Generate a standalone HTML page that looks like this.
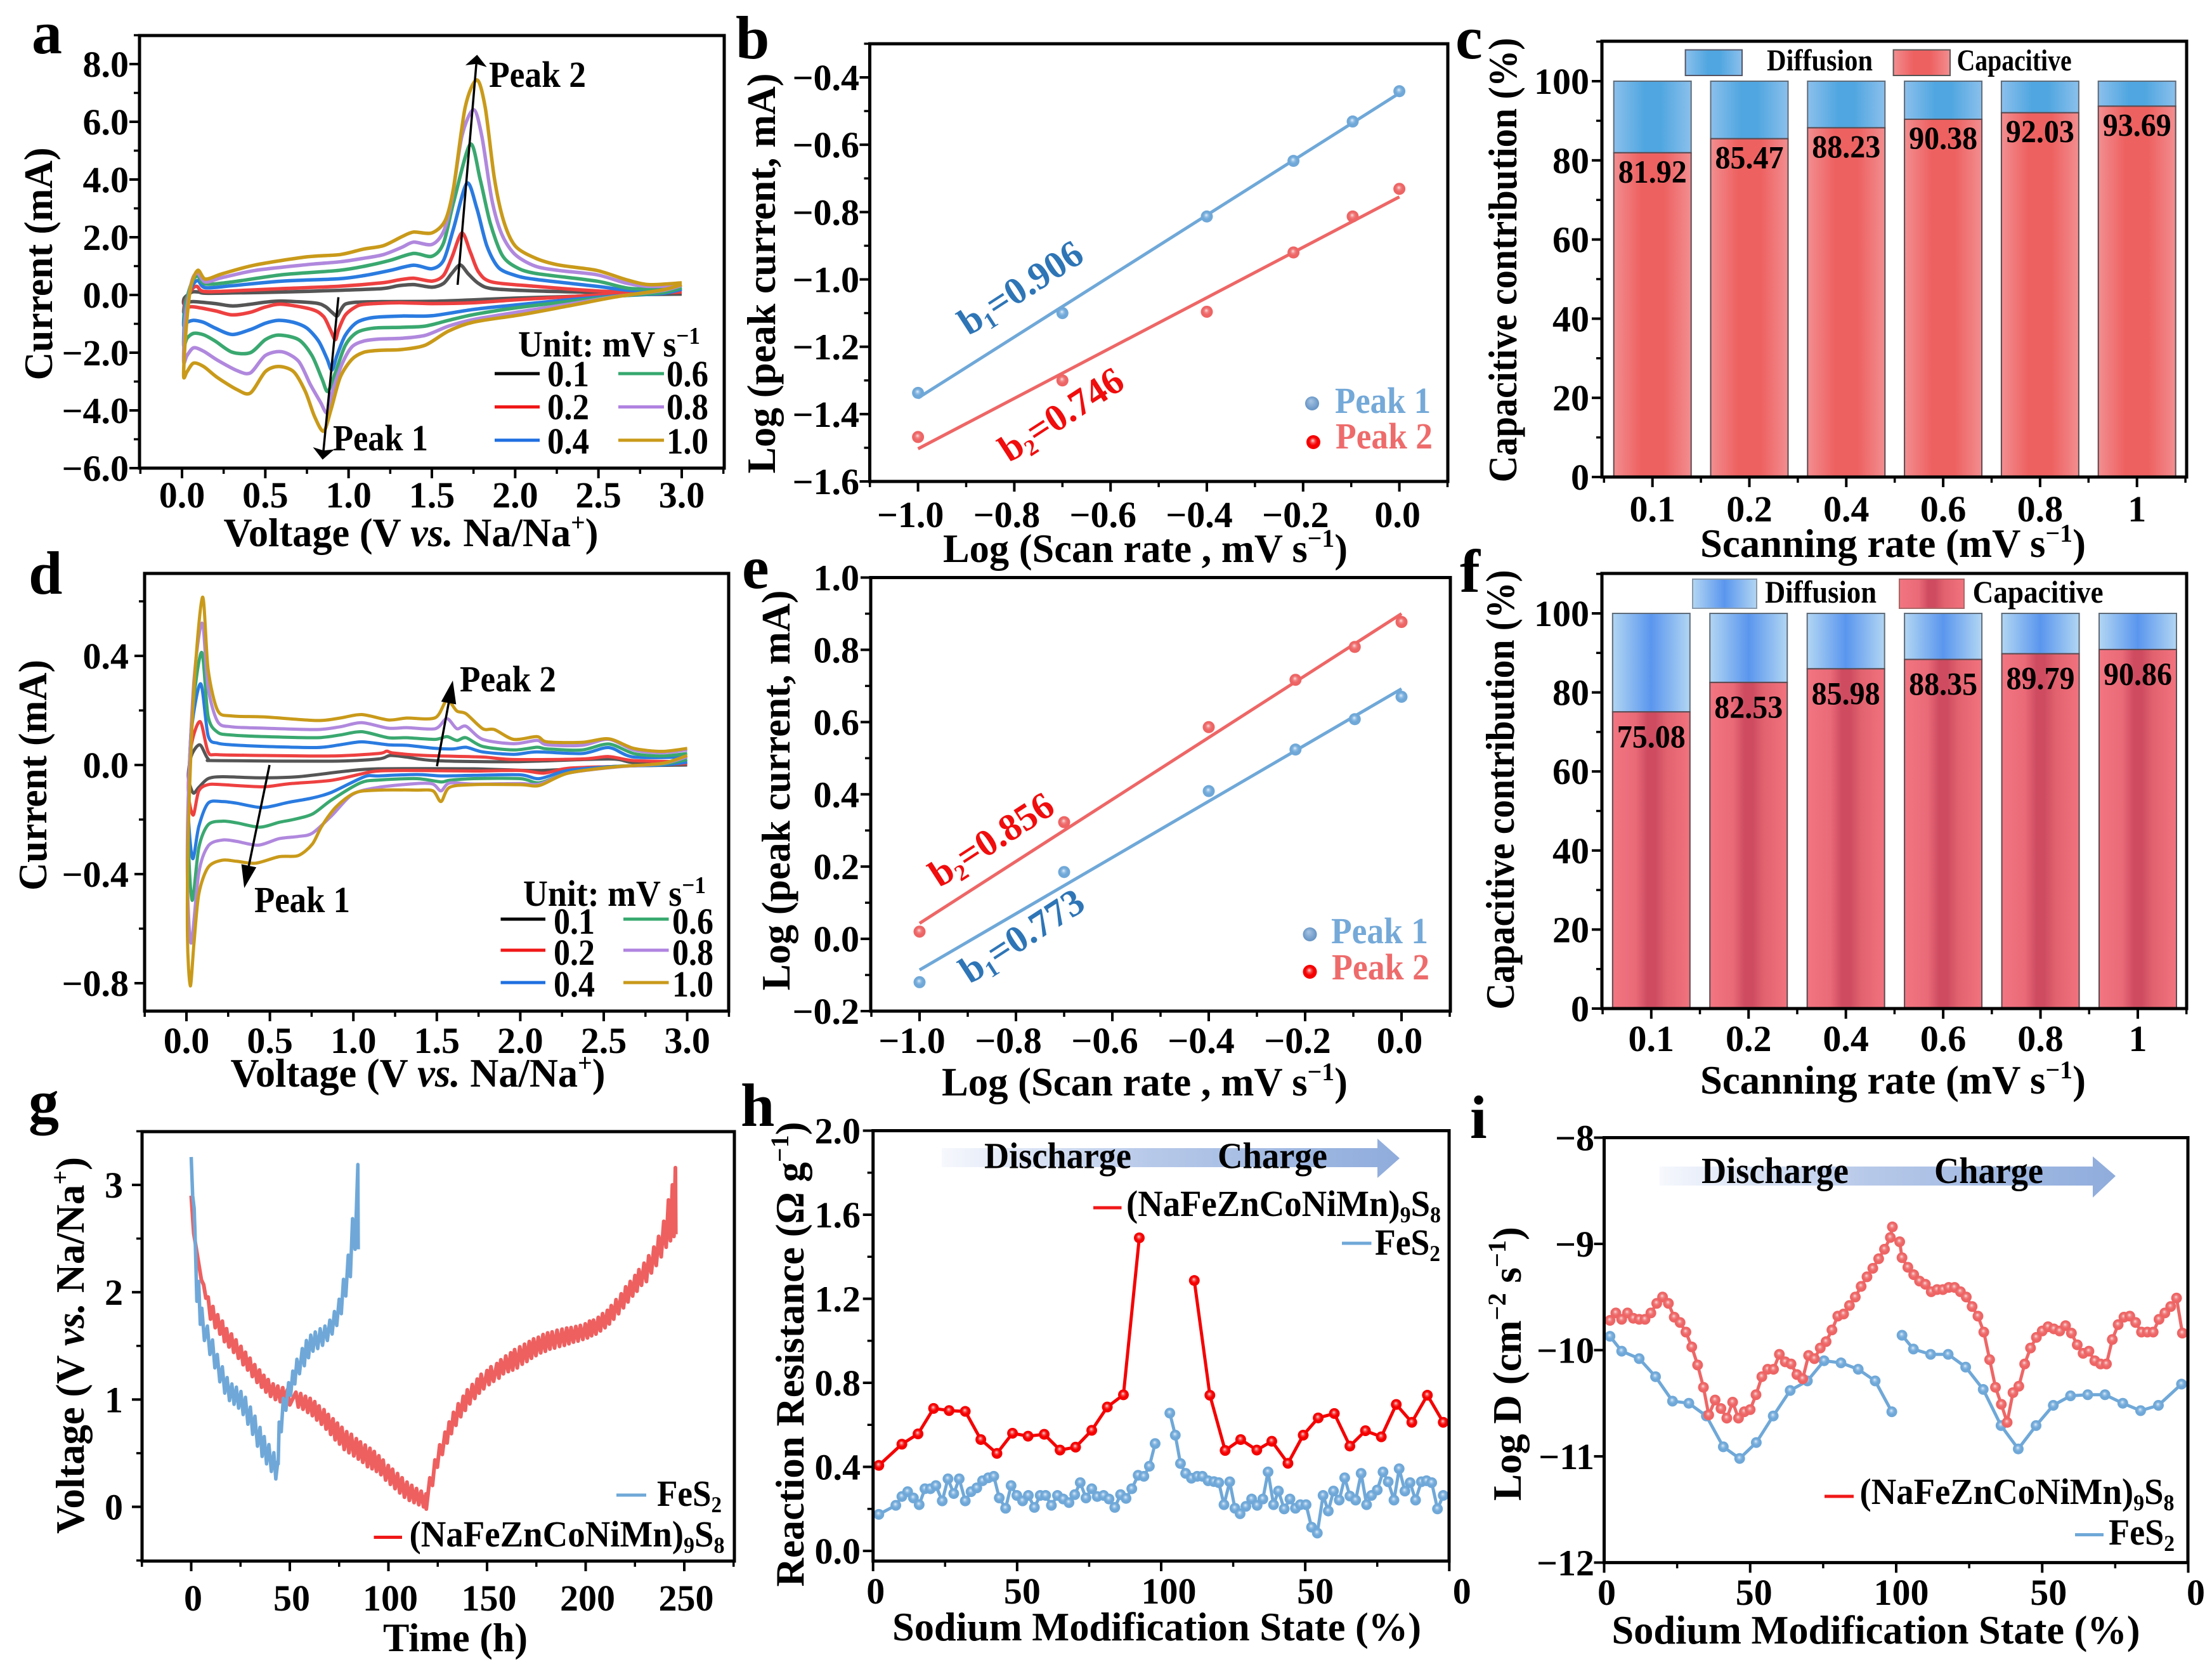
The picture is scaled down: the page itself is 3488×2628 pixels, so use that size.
<!DOCTYPE html>
<html lang="en">
<head>
<meta charset="utf-8">
<title>Electrochemical characterisation figure</title>
<style>
html,body{margin:0;padding:0;background:#fff;}
svg{display:block;}
text{font-family:"Liberation Serif",serif;font-weight:bold;fill:#000;}
</style>
</head>
<body>
<svg id="figure" xmlns="http://www.w3.org/2000/svg" width="3488" height="2628" viewBox="0 0 3488 2628">
<defs>
<linearGradient id="cCap" x1="0" x2="1" y1="0" y2="0"><stop offset="0" stop-color="#f28e90"/><stop offset=".35" stop-color="#ee6161"/><stop offset=".65" stop-color="#ee6161"/><stop offset="1" stop-color="#f28e90"/></linearGradient>
<linearGradient id="cDif" x1="0" x2="1" y1="0" y2="0"><stop offset="0" stop-color="#8bc0ec"/><stop offset=".4" stop-color="#4fa6e0"/><stop offset=".6" stop-color="#4fa6e0"/><stop offset="1" stop-color="#8bc0ec"/></linearGradient>
<linearGradient id="fCap" x1="0" x2="1" y1="0" y2="0"><stop offset="0" stop-color="#f27581"/><stop offset=".3" stop-color="#ea6a78"/><stop offset=".45" stop-color="#ce4b60"/><stop offset=".55" stop-color="#ce4b60"/><stop offset=".7" stop-color="#e2636f"/><stop offset="1" stop-color="#f2737e"/></linearGradient>
<linearGradient id="fDif" x1="0" x2="1" y1="0" y2="0"><stop offset="0" stop-color="#b2d6f3"/><stop offset=".5" stop-color="#5a96ee"/><stop offset="1" stop-color="#b2d6f3"/></linearGradient>
<linearGradient id="flowArrow" x1="0" x2="1" y1="0" y2="0"><stop offset="0" stop-color="#f6f8fd"/><stop offset=".45" stop-color="#b7c9e9"/><stop offset="1" stop-color="#8facdc"/></linearGradient>
<radialGradient id="dotBlue" cx=".5" cy=".5" r=".55" fx=".45" fy=".38"><stop offset="0" stop-color="#e4eff9"/><stop offset=".3" stop-color="#8dbbe3"/><stop offset=".55" stop-color="#6fa8d8"/><stop offset="1" stop-color="#6fa8d8"/></radialGradient>
<radialGradient id="dotRed" cx=".5" cy=".5" r=".55" fx=".45" fy=".38"><stop offset="0" stop-color="#fde0e0"/><stop offset=".3" stop-color="#f08484"/><stop offset=".55" stop-color="#ee6666"/><stop offset="1" stop-color="#ee6262"/></radialGradient>
<radialGradient id="dotVivid" cx=".5" cy=".5" r=".55" fx=".45" fy=".38"><stop offset="0" stop-color="#fdd"/><stop offset=".3" stop-color="#f84040"/><stop offset=".55" stop-color="#f50000"/><stop offset="1" stop-color="#f50000"/></radialGradient>
<radialGradient id="dotSteel" cx=".5" cy=".5" r=".55" fx=".4" fy=".3"><stop offset="0" stop-color="#a9c6e4"/><stop offset="1" stop-color="#5f8fc2"/></radialGradient>
<marker id="headS" viewBox="0 0 10 10" refX="8" refY="5" markerUnits="userSpaceOnUse" markerWidth="18" markerHeight="34" orient="auto" preserveAspectRatio="none"><path d="M0 0L10 5L0 10L2 5Z" fill="#000"/></marker>
<marker id="headL" viewBox="0 0 10 10" refX="8" refY="5" markerUnits="userSpaceOnUse" markerWidth="36" markerHeight="24" orient="auto" preserveAspectRatio="none"><path d="M0 0L10 5L0 10Z" fill="#000"/></marker>
</defs>

<!-- panel letters -->
<g font-size="96">
<text x="50" y="84">a</text>
<text x="1160" y="92">b</text>
<text x="2295" y="92">c</text>
<text x="45" y="936">d</text>
<text x="1170" y="927">e</text>
<text x="2302" y="933">f</text>
<text x="45" y="1769">g</text>
<text x="1168" y="1775">h</text>
<text x="2318" y="1794">i</text>
</g>

<g id="marks"></g>

<!-- axis titles -->
<g font-size="63" text-anchor="middle">
<text x="648" y="861" textLength="591" lengthAdjust="spacingAndGlyphs">Voltage (V <tspan font-style="italic">vs.</tspan> Na/Na<tspan dy="-24" font-size="40">+</tspan><tspan dy="24">)</tspan></text>
<text transform="translate(82,416) rotate(-90)" textLength="367" lengthAdjust="spacingAndGlyphs">Current (mA)</text>
<text x="1806" y="886" textLength="638" lengthAdjust="spacingAndGlyphs">Log (Scan rate , mV s<tspan dy="-24" font-size="40">−1</tspan><tspan dy="24">)</tspan></text>
<text transform="translate(1222,431) rotate(-90)" textLength="631" lengthAdjust="spacingAndGlyphs">Log (peak current, mA)</text>
<text x="2985" y="878" textLength="608" lengthAdjust="spacingAndGlyphs">Scanning rate (mV s<tspan dy="-24" font-size="40">−1</tspan><tspan dy="24">)</tspan></text>
<text transform="translate(2391,410) rotate(-90)" textLength="701" lengthAdjust="spacingAndGlyphs">Capacitive contribution (%)</text>
<text x="659" y="1713" textLength="591" lengthAdjust="spacingAndGlyphs">Voltage (V <tspan font-style="italic">vs.</tspan> Na/Na<tspan dy="-24" font-size="40">+</tspan><tspan dy="24">)</tspan></text>
<text transform="translate(73,1222) rotate(-90)" textLength="364" lengthAdjust="spacingAndGlyphs">Current (mA)</text>
<text x="1805" y="1727" textLength="640" lengthAdjust="spacingAndGlyphs">Log (Scan rate , mV s<tspan dy="-24" font-size="40">−1</tspan><tspan dy="24">)</tspan></text>
<text transform="translate(1245,1246) rotate(-90)" textLength="631" lengthAdjust="spacingAndGlyphs">Log (peak current, mA)</text>
<text x="2985" y="1724" textLength="608" lengthAdjust="spacingAndGlyphs">Scanning rate (mV s<tspan dy="-24" font-size="40">−1</tspan><tspan dy="24">)</tspan></text>
<text transform="translate(2387,1245) rotate(-90)" textLength="693" lengthAdjust="spacingAndGlyphs">Capacitive contribution (%)</text>
<text x="718" y="2603" textLength="228" lengthAdjust="spacingAndGlyphs">Time (h)</text>
<text transform="translate(132,2121) rotate(-90)" textLength="594" lengthAdjust="spacingAndGlyphs">Voltage (V <tspan font-style="italic">vs.</tspan> Na/Na<tspan dy="-24" font-size="40">+</tspan><tspan dy="24">)</tspan></text>
<text x="1824" y="2586" textLength="834" lengthAdjust="spacingAndGlyphs">Sodium Modification State (%)</text>
<text transform="translate(1267,2135) rotate(-90)" textLength="733" lengthAdjust="spacingAndGlyphs">Reaction Resistance (Ω g<tspan dy="-24" font-size="40">−1</tspan><tspan dy="24">)</tspan></text>
<text x="2958" y="2591" textLength="833" lengthAdjust="spacingAndGlyphs">Sodium Modification State (%)</text>
<text transform="translate(2398,2150) rotate(-90)" textLength="432" lengthAdjust="spacingAndGlyphs">Log D (cm<tspan dy="-24" font-size="40">−2</tspan><tspan dy="24"> s</tspan><tspan dy="-24" font-size="40">−1</tspan><tspan dy="24">)</tspan></text>
</g>

<!-- panel a annotations and legend -->
<g>
<line x1="721.6" y1="449" x2="752" y2="90" stroke="#000" stroke-width="3.5" marker-end="url(#headS)"/>
<line x1="533.6" y1="468.6" x2="509" y2="721" stroke="#000" stroke-width="3.5" marker-end="url(#headS)"/>
<text x="771" y="137" font-size="58" textLength="153" lengthAdjust="spacingAndGlyphs">Peak 2</text>
<text x="525" y="710" font-size="58" textLength="150" lengthAdjust="spacingAndGlyphs">Peak 1</text>
<text x="817" y="562" font-size="58" textLength="287" lengthAdjust="spacingAndGlyphs">Unit: mV s<tspan dy="-20" font-size="38">−1</tspan></text>
<g stroke-width="5">
<line x1="780" x2="851" y1="589" y2="589" stroke="#000"/>
<line x1="780" x2="851" y1="641.5" y2="641.5" stroke="#f01818"/>
<line x1="780" x2="851" y1="694" y2="694" stroke="#1f6fe0"/>
<line x1="975" x2="1047" y1="589" y2="589" stroke="#35a86e"/>
<line x1="975" x2="1047" y1="641.5" y2="641.5" stroke="#b083e0"/>
<line x1="975" x2="1047" y1="694" y2="694" stroke="#c99a1a"/>
</g>
<g font-size="58">
<text x="863" y="609" textLength="66" lengthAdjust="spacingAndGlyphs">0.1</text>
<text x="863" y="661" textLength="66" lengthAdjust="spacingAndGlyphs">0.2</text>
<text x="863" y="715" textLength="66" lengthAdjust="spacingAndGlyphs">0.4</text>
<text x="1051" y="609" textLength="66" lengthAdjust="spacingAndGlyphs">0.6</text>
<text x="1051" y="661" textLength="66" lengthAdjust="spacingAndGlyphs">0.8</text>
<text x="1051" y="715" textLength="66" lengthAdjust="spacingAndGlyphs">1.0</text>
</g>
</g>

<!-- panel d annotations and legend -->
<g>
<line x1="689" y1="1208" x2="712.7" y2="1080" stroke="#000" stroke-width="3.5" marker-end="url(#headL)"/>
<line x1="425" y1="1206" x2="386.6" y2="1393" stroke="#000" stroke-width="3.5" marker-end="url(#headL)"/>
<text x="725" y="1090" font-size="58" textLength="152" lengthAdjust="spacingAndGlyphs">Peak 2</text>
<text x="401" y="1438" font-size="58" textLength="151" lengthAdjust="spacingAndGlyphs">Peak 1</text>
<text x="825" y="1428" font-size="58" textLength="288" lengthAdjust="spacingAndGlyphs">Unit: mV s<tspan dy="-20" font-size="38">−1</tspan></text>
<g stroke-width="5">
<line x1="789.5" x2="860" y1="1449" y2="1449" stroke="#000"/>
<line x1="789.5" x2="860" y1="1498" y2="1498" stroke="#f01818"/>
<line x1="789.5" x2="860" y1="1549" y2="1549" stroke="#1f6fe0"/>
<line x1="983" x2="1054.5" y1="1449" y2="1449" stroke="#35a86e"/>
<line x1="983" x2="1054.5" y1="1498" y2="1498" stroke="#b083e0"/>
<line x1="983" x2="1054.5" y1="1549" y2="1549" stroke="#c99a1a"/>
</g>
<g font-size="58">
<text x="873" y="1472" textLength="65" lengthAdjust="spacingAndGlyphs">0.1</text>
<text x="873" y="1521" textLength="65" lengthAdjust="spacingAndGlyphs">0.2</text>
<text x="873" y="1571" textLength="65" lengthAdjust="spacingAndGlyphs">0.4</text>
<text x="1060" y="1472" textLength="65" lengthAdjust="spacingAndGlyphs">0.6</text>
<text x="1060" y="1521" textLength="65" lengthAdjust="spacingAndGlyphs">0.8</text>
<text x="1060" y="1571" textLength="65" lengthAdjust="spacingAndGlyphs">1.0</text>
</g>
</g>

<!-- panels b and e annotations -->
<g font-size="60" text-anchor="middle">
<text transform="translate(1620,470) rotate(-33)" style="fill:#2e75b6">b<tspan dy="10" font-size="36">1</tspan><tspan dy="-10">=0.906</tspan></text>
<text transform="translate(1684,670) rotate(-33)" style="fill:#f00d0d">b<tspan dy="10" font-size="36">2</tspan><tspan dy="-10">=0.746</tspan></text>
<text transform="translate(1574,1340) rotate(-33)" style="fill:#f00d0d">b<tspan dy="10" font-size="36">2</tspan><tspan dy="-10">=0.856</tspan></text>
<text transform="translate(1622,1492) rotate(-33)" style="fill:#2e75b6">b<tspan dy="10" font-size="36">1</tspan><tspan dy="-10">=0.773</tspan></text>
</g>
<g font-size="58">
<circle cx="2069" cy="636" r="11" fill="url(#dotSteel)"/>
<text x="2105" y="651" textLength="151" lengthAdjust="spacingAndGlyphs" style="fill:#74a9d8">Peak 1</text>
<circle cx="2071" cy="697" r="11" fill="url(#dotVivid)"/>
<text x="2106" y="707" textLength="153" lengthAdjust="spacingAndGlyphs" style="fill:#ee6b6b">Peak 2</text>
<circle cx="2065.5" cy="1473" r="11" fill="url(#dotSteel)"/>
<text x="2099" y="1487" textLength="153" lengthAdjust="spacingAndGlyphs" style="fill:#74a9d8">Peak 1</text>
<circle cx="2065.5" cy="1532" r="11" fill="url(#dotVivid)"/>
<text x="2100" y="1544" textLength="154" lengthAdjust="spacingAndGlyphs" style="fill:#ee6b6b">Peak 2</text>
</g>

<!-- panels c and f legends -->
<g font-size="48">
<rect x="2657.6" y="78.6" width="89.4" height="40.4" fill="url(#cDif)" stroke="#556" stroke-width="2"/>
<text x="2786" y="111" textLength="167" lengthAdjust="spacingAndGlyphs">Diffusion</text>
<rect x="2985.6" y="78.6" width="89.4" height="40.4" fill="url(#cCap)" stroke="#555" stroke-width="2"/>
<text x="3085.6" y="111" textLength="181" lengthAdjust="spacingAndGlyphs">Capacitive</text>
<rect x="2669" y="913" width="101" height="46" fill="url(#fDif)" stroke="#89a" stroke-width="2"/>
<text x="2783" y="950" font-size="50" textLength="176" lengthAdjust="spacingAndGlyphs">Diffusion</text>
<rect x="2995" y="913" width="102" height="46" fill="url(#fCap)" stroke="#a66" stroke-width="2"/>
<text x="3110.6" y="950" font-size="50" textLength="206" lengthAdjust="spacingAndGlyphs">Capacitive</text>
</g>

<!-- panel g legend -->
<g font-size="58">
<line x1="972" x2="1019" y1="2357" y2="2357" stroke="#6fa8d8" stroke-width="5"/>
<text x="1036" y="2374" textLength="102" lengthAdjust="spacingAndGlyphs">FeS<tspan dy="10" font-size="36">2</tspan></text>
<line x1="589.5" x2="634" y1="2423.5" y2="2423.5" stroke="#f01818" stroke-width="5"/>
<text x="645.5" y="2438" textLength="497" lengthAdjust="spacingAndGlyphs">(NaFeZnCoNiMn)<tspan dy="10" font-size="36">9</tspan><tspan dy="-10">S</tspan><tspan dy="10" font-size="36">8</tspan></text>
</g>

<!-- panel h annotations -->
<g font-size="58">
<polygon points="1485,1810 2172,1810 2172,1795 2207,1826 2172,1857 2172,1840 1485,1840" fill="url(#flowArrow)"/>
<text x="1552" y="1841.6" textLength="232" lengthAdjust="spacingAndGlyphs">Discharge</text>
<text x="1920" y="1841.6" textLength="173" lengthAdjust="spacingAndGlyphs">Charge</text>
<line x1="1724" x2="1768.5" y1="1904" y2="1904" stroke="#f01818" stroke-width="5"/>
<text x="1776" y="1917" textLength="496" lengthAdjust="spacingAndGlyphs">(NaFeZnCoNiMn)<tspan dy="10" font-size="36">9</tspan><tspan dy="-10">S</tspan><tspan dy="10" font-size="36">8</tspan></text>
<line x1="2116" x2="2162.5" y1="1960" y2="1960" stroke="#6fa8d8" stroke-width="5"/>
<text x="2168" y="1978" textLength="103" lengthAdjust="spacingAndGlyphs">FeS<tspan dy="10" font-size="36">2</tspan></text>
</g>

<!-- panel i annotations -->
<g font-size="58">
<polygon points="2617,1839 3300,1839 3300,1823 3336,1854 3300,1888 3300,1869 2617,1869" fill="url(#flowArrow)"/>
<text x="2683" y="1865" textLength="232" lengthAdjust="spacingAndGlyphs">Discharge</text>
<text x="3050" y="1865" textLength="172" lengthAdjust="spacingAndGlyphs">Charge</text>
<line x1="2877" x2="2923" y1="2359" y2="2359" stroke="#f01818" stroke-width="5"/>
<text x="2932.5" y="2371" textLength="496" lengthAdjust="spacingAndGlyphs">(NaFeZnCoNiMn)<tspan dy="10" font-size="36">9</tspan><tspan dy="-10">S</tspan><tspan dy="10" font-size="36">8</tspan></text>
<line x1="3272" x2="3317" y1="2419.5" y2="2419.5" stroke="#6fa8d8" stroke-width="5"/>
<text x="3325" y="2435" textLength="104" lengthAdjust="spacingAndGlyphs">FeS<tspan dy="10" font-size="36">2</tspan></text>
</g>
</svg>

<script>
/* ---------- Panel a: CV loops, [voltage, current] ---------- */
const cvRates = ['0.1','0.2','0.4','0.6','0.8','1.0'];
const cvColors = ['#555555','#ee4040','#2a7be0','#3aa870','#b088dd','#c99a1a'];
const aCv01 = [[3,.03],[2.6,0],[2.3,-.06],[2,-.11],[1.75,-.17],[1.5,-.22],[1.2,-.23],[1.05,-.25],[.98,-.32],[.95,-.55],[.93,-.73],[.9,-.6],[.86,-.4],[.8,-.28],[.6,-.21],[.5,-.25],[.4,-.33],[.3,-.38],[.2,-.3],[.07,-.23],[.03,-.26],[.01,-.3],[.015,-.1],[.06,.1],[.1,.1],[.14,.06],[.3,.07],[.6,.1],[.94,.16],[1.2,.22],[1.3,.32],[1.39,.36],[1.5,.27],[1.57,.4],[1.62,.75],[1.67,1.04],[1.72,.72],[1.78,.4],[1.86,.22],[2.12,.14],[2.49,.09],[3,.03]];
const aCv02 = [[3,.1],[2.6,.03],[2.3,-.07],[2,-.17],[1.75,-.27],[1.5,-.3],[1.3,-.27],[1.1,-.32],[1.04,-.42],[.98,-.7],[.94,-1.2],[.92,-1.55],[.89,-1.2],[.85,-.75],[.78,-.5],[.6,-.32],[.5,-.42],[.41,-.6],[.3,-.69],[.2,-.55],[.07,-.41],[.03,-.45],[.01,-.6],[.02,-.2],[.06,.2],[.09,.3],[.13,.12],[.3,.14],[.6,.22],[.94,.3],[1.2,.42],[1.3,.52],[1.39,.58],[1.5,.48],[1.57,.68],[1.62,1.3],[1.68,2.15],[1.73,1.5],[1.78,.8],[1.86,.45],[2.12,.3],[2.49,.14],[2.8,.08],[3,.1]];
const aCv04 = [[3,.2],[2.88,.05],[2.6,-.04],[2.3,-.18],[2,-.35],[1.75,-.5],[1.5,-.72],[1.32,-.73],[1.15,-.78],[1.05,-.95],[.98,-1.4],[.93,-2.1],[.9,-2.6],[.87,-2.2],[.82,-1.6],[.75,-1.15],[.67,-.95],[.58,-.88],[.5,-.98],[.41,-1.2],[.3,-1.37],[.2,-1.15],[.13,-.95],[.07,-.88],[.03,-.95],[.01,-1.06],[.02,-.3],[.06,.3],[.095,.5],[.14,.25],[.3,.32],[.6,.48],[.94,.56],[1.1,.68],[1.25,.85],[1.39,1.03],[1.5,.91],[1.57,1.2],[1.63,2.3],[1.71,3.87],[1.77,3],[1.83,1.7],[1.9,.95],[2,.68],[2.12,.54],[2.49,.3],[2.7,.16],[3,.2]];
const aCv06 = [[3,.25],[2.88,.08],[2.6,-.05],[2.3,-.24],[2,-.45],[1.75,-.68],[1.6,-.88],[1.46,-1.08],[1.32,-1.12],[1.15,-1.15],[1.05,-1.3],[.98,-1.75],[.92,-2.7],[.875,-3.34],[.84,-2.9],[.78,-2.1],[.7,-1.55],[.58,-1.39],[.5,-1.55],[.41,-2],[.3,-1.98],[.2,-1.6],[.13,-1.38],[.07,-1.33],[.03,-1.5],[.01,-1.75],[.02,-.4],[.06,.45],[.095,.65],[.14,.38],[.3,.45],[.6,.7],[.94,.85],[1.1,1],[1.25,1.2],[1.39,1.44],[1.5,1.34],[1.57,1.8],[1.63,3.2],[1.73,5.22],[1.79,4],[1.85,2.5],[1.92,1.4],[2,.98],[2.12,.75],[2.49,.48],[2.7,.22],[3,.25]];
const aCv08 = [[3,.33],[2.88,.15],[2.6,-.06],[2.32,-.32],[2.03,-.58],[1.75,-.85],[1.6,-1.08],[1.46,-1.4],[1.32,-1.5],[1.18,-1.53],[1.09,-1.6],[1.02,-1.8],[.96,-2.4],[.9,-3.4],[.87,-4.08],[.83,-3.7],[.77,-3.1],[.7,-2.3],[.6,-1.97],[.5,-2.1],[.41,-2.7],[.33,-2.62],[.21,-2.25],[.13,-1.95],[.07,-1.83],[.03,-2.1],[.01,-2.3],[.02,-.8],[.06,.5],[.094,.75],[.14,.45],[.24,.6],[.44,.85],[.75,1.05],[.95,1.15],[1.09,1.27],[1.21,1.4],[1.32,1.65],[1.39,1.83],[1.5,1.75],[1.57,2.2],[1.62,3.3],[1.68,5.5],[1.75,6.42],[1.8,5.5],[1.86,3.3],[1.92,2.1],[2,1.4],[2.12,1],[2.26,.85],[2.49,.7],[2.66,.42],[2.8,.3],[3,.33]];
const aCv10 = [[3,.36],[2.88,.17],[2.6,-.07],[2.32,-.38],[2.03,-.69],[1.75,-.94],[1.6,-1.25],[1.46,-1.74],[1.32,-1.89],[1.18,-1.92],[1.09,-1.99],[1.02,-2.23],[.95,-2.85],[.895,-3.96],[.85,-4.72],[.795,-4.2],[.74,-3.34],[.67,-2.66],[.58,-2.48],[.5,-2.66],[.41,-3.4],[.33,-3.28],[.21,-2.85],[.13,-2.48],[.07,-2.36],[.03,-2.66],[.01,-2.82],[.02,-1.5],[.05,.2],[.094,.85],[.14,.55],[.24,.73],[.44,1.04],[.75,1.32],[.95,1.4],[1.09,1.59],[1.21,1.71],[1.32,2.02],[1.39,2.18],[1.5,2.15],[1.58,2.58],[1.63,3.7],[1.7,6.5],[1.77,7.45],[1.82,6.5],[1.875,4.05],[1.93,2.58],[2,1.7],[2.12,1.28],[2.26,1.04],[2.49,.85],[2.66,.54],[2.8,.36],[3,.42]];
const aXTickLabels = ['0.0','0.5','1.0','1.5','2.0','2.5','3.0'];
const aYTickLabels = ['8.0','6.0','4.0','2.0','0.0','−2.0','−4.0','−6.0'];

/* ---------- Panel b: log-log fits ---------- */
const logScanRate = [-1,-0.7,-0.4,-0.22,-0.097,0];
const bPeak1 = [-1.337,-1.10,-0.813,-0.648,-0.531,-0.441];
const bPeak2 = [-1.468,-1.30,-1.096,-0.92,-0.813,-0.731];
const bFitX = [-1,0];
const bFit1 = [-1.352,-0.447];
const bFit2 = [-1.503,-0.755];
const logXTickLabels = ['−1.0','−0.8','−0.6','−0.4','−0.2','0.0'];
const bYTickLabels = ['−0.4','−0.6','−0.8','−1.0','−1.2','−1.4','−1.6'];

/* ---------- Panel c: capacitive share ---------- */
const scanRates = ['0.1','0.2','0.4','0.6','0.8','1'];
const cCapacitive = [81.92,85.47,88.23,90.38,92.03,93.69];
const barYTickLabels = ['0','20','40','60','80','100'];

/* ---------- Panel d: CV loops, [voltage, current] ---------- */
const dCv01 = [[3,0],[2.57,-.005],[2.115,-.02],[1.72,-.014],[1.15,-.014],[.95,-.023],[.67,-.043],[.44,-.047],[.215,-.043],[.13,-.05],[.074,-.082],[.04,-.102],[.011,-.043],[.03,.035],[.08,.074],[.13,.022],[.187,.016],[.87,.014],[1.15,.022],[1.22,.035],[1.32,.029],[1.49,.016],[1.96,.012],[2.53,.022],[2.68,.009],[3,.007]];
const dCv02 = [[3,.005],[2.57,-.005],[2.285,-.012],[2.14,-.03],[2,-.02],[1.72,-.022],[1.38,-.02],[1.15,-.022],[1.066,-.03],[.87,-.056],[.61,-.069],[.456,-.08],[.215,-.072],[.13,-.072],[.074,-.095],[.04,-.184],[.011,-.095],[.03,.074],[.082,.159],[.13,.048],[.187,.038],[.47,.035],[.87,.033],[1.15,.042],[1.2,.051],[1.24,.044],[1.43,.035],[1.775,.029],[1.96,.02],[2.37,.022],[2.53,.031],[2.68,.016],[3,.012]];
const dCv04 = [[3,.01],[2.85,0],[2.57,-.005],[2.285,-.02],[2.115,-.05],[2,-.036],[1.72,-.038],[1.525,-.04],[1.38,-.035],[1.15,-.04],[1.066,-.043],[.87,-.1],[.754,-.121],[.61,-.137],[.456,-.156],[.3,-.14],[.215,-.134],[.13,-.14],[.074,-.225],[.037,-.343],[.011,-.16],[.03,.126],[.085,.298],[.13,.107],[.187,.08],[.27,.074],[.47,.068],[.78,.064],[.92,.074],[1.05,.085],[1.21,.074],[1.32,.072],[1.49,.061],[1.6,.059],[1.675,.065],[1.775,.048],[1.96,.039],[2.1,.048],[2.37,.042],[2.53,.064],[2.68,.029],[3,.029]];
const dCv06 = [[3,.02],[2.85,.003],[2.57,-.006],[2.285,-.03],[2.115,-.065],[2,-.05],[1.72,-.05],[1.576,-.056],[1.525,-.062],[1.38,-.05],[1.15,-.055],[1.04,-.066],[.87,-.128],[.754,-.18],[.64,-.2],[.556,-.21],[.44,-.228],[.3,-.212],[.215,-.206],[.13,-.219],[.074,-.303],[.034,-.496],[.011,-.238],[.03,.152],[.09,.413],[.13,.178],[.187,.12],[.27,.11],[.47,.104],[.78,.1],[.92,.11],[1.05,.122],[1.21,.1],[1.32,.1],[1.49,.094],[1.56,.104],[1.62,.09],[1.675,.1],[1.775,.068],[1.96,.055],[2.1,.065],[2.16,.059],[2.37,.055],[2.53,.077],[2.68,.042],[2.85,.033],[3,.042]];
const dCv08 = [[3,.03],[2.85,.005],[2.57,-.008],[2.285,-.03],[2.115,-.07],[2,-.068],[1.72,-.07],[1.576,-.066],[1.525,-.095],[1.477,-.07],[1.38,-.068],[1.15,-.082],[.995,-.108],[.87,-.186],[.754,-.25],[.67,-.262],[.556,-.27],[.43,-.294],[.3,-.28],[.215,-.275],[.13,-.297],[.074,-.395],[.028,-.653],[.006,-.43],[.011,-.108],[.045,.31],[.094,.52],[.13,.283],[.187,.159],[.27,.14],[.47,.135],[.78,.13],[.92,.14],[1.05,.155],[1.21,.135],[1.32,.137],[1.49,.133],[1.56,.17],[1.62,.133],[1.675,.142],[1.775,.094],[1.96,.078],[2.1,.09],[2.16,.074],[2.37,.072],[2.53,.094],[2.68,.055],[2.85,.045],[3,.055]];
const dCv10 = [[3,.035],[2.85,.006],[2.57,-.007],[2.285,-.03],[2.115,-.075],[2,-.072],[1.72,-.072],[1.576,-.082],[1.525,-.134],[1.477,-.095],[1.38,-.092],[1.15,-.092],[1.01,-.102],[.896,-.154],[.81,-.225],[.754,-.29],[.67,-.332],[.556,-.336],[.414,-.36],[.3,-.353],[.215,-.349],[.13,-.375],[.074,-.473],[.045,-.655],[.023,-.81],[.006,-.63],[.011,-.24],[.045,.28],[.096,.615],[.13,.35],[.187,.2],[.27,.18],[.47,.176],[.78,.163],[.92,.172],[1.05,.185],[1.21,.165],[1.32,.172],[1.49,.173],[1.56,.237],[1.62,.198],[1.675,.188],[1.775,.133],[1.845,.13],[1.96,.094],[2.1,.104],[2.16,.085],[2.37,.083],[2.53,.096],[2.68,.061],[2.85,.05],[3,.061]];
const dYTickLabels = ['0.4','0.0','−0.4','−0.8'];

/* ---------- Panel e ---------- */
const ePeak1 = [-0.12,0.185,0.409,0.524,0.608,0.67];
const ePeak2 = [0.02,0.323,0.586,0.717,0.808,0.877];
const eFit1 = [-0.086,0.692];
const eFit2 = [0.043,0.9];
const eYTickLabels = ['1.0','0.8','0.6','0.4','0.2','0.0','−0.2'];

/* ---------- Panel f ---------- */
const fCapacitive = [75.08,82.53,85.98,88.35,89.79,90.86];

/* ---------- Panel g: GITT teeth, [time h, tooth top V, tooth bottom V] ---------- */
const gHesDischarge = [[0,2.9,2.55],[4,2.245,2.115],[6.3,2.07,1.945],[8.6,1.955,1.75],[11,1.867,1.67],[13.4,1.79,1.61],[15.8,1.73,1.54],[17.9,1.66,1.49],[20.4,1.61,1.44],[22.7,1.555,1.385],[25.2,1.495,1.325],[27.5,1.44,1.275],[29.8,1.385,1.215],[32.2,1.325,1.16],[34.6,1.275,1.115],[36.8,1.225,1.07],[39,1.185,1.03],[41.5,1.145,1],[43.9,1.125,.98],[46.4,1.11,.97],[48.7,1.09,.95],[53.1,1.068,.93],[55.5,1.055,.91],[57.9,1.03,.88],[60.3,1.01,.85],[62.6,.98,.81],[64.8,.94,.77],[67.3,.905,.725],[69.5,.86,.675],[71.9,.82,.625],[74.1,.78,.585],[76.4,.74,.535],[78.8,.7,.505],[81.2,.675,.475],[83.7,.635,.445],[85.8,.605,.415],[88.2,.575,.375],[90.6,.545,.355],[92.8,.515,.33],[95.1,.475,.3],[97.3,.435,.25],[99.9,.385,.21],[102.1,.35,.17],[104.6,.31,.13],[106.9,.27,.09],[109.4,.23,.06],[111.8,.2,.04],[114.2,.17,.02],[116.6,.145,0],[119,.12,-.02]];
const gHesCharge = [[121,.27,.2],[123.6,.437,.37],[126,.577,.488],[128.7,.695,.595],[130.8,.79,.683],[133,.88,.76],[135.4,.96,.84],[137.9,1.03,.9],[140,1.09,.96],[142.5,1.14,1.01],[145,1.19,1.06],[147,1.235,1.1],[150,1.27,1.14],[152,1.305,1.17],[155,1.335,1.2],[157,1.37,1.24],[159.5,1.405,1.26],[162,1.435,1.275],[164,1.465,1.295],[166.6,1.49,1.33],[169,1.515,1.355],[171.4,1.54,1.385],[173.6,1.565,1.41],[176,1.58,1.435],[178.4,1.605,1.45],[180.7,1.62,1.47],[183,1.63,1.48],[185.5,1.645,1.495],[188,1.655,1.505],[190.4,1.665,1.52],[192.6,1.67,1.535],[195,1.68,1.545],[197.3,1.69,1.56],[199.8,1.705,1.575],[202,1.73,1.595],[204,1.74,1.61],[206.4,1.765,1.64],[208.6,1.8,1.67],[211,1.83,1.705],[213,1.875,1.75],[215.4,1.93,1.8],[218,1.985,1.855],[220.3,2.05,1.91],[222.6,2.1,1.965],[225,2.155,2.01],[227,2.21,2.065],[229.6,2.27,2.1],[232,2.34,2.18],[234.6,2.42,2.25],[237,2.52,2.33],[239.6,2.66,2.42],[242,2.86,2.48],[244,3,2.52],[245.5,3.16,2.54]];
const gFesDischarge = [[0,3.26,2.9],[1.5,2.78,2.67],[1.9,2.58,1.915],[3.8,2.1,1.7],[5.4,1.85,1.55],[8.2,1.685,1.42],[10.8,1.555,1.295],[13.2,1.42,1.165],[15.8,1.305,1.06],[18.2,1.205,.99],[20.6,1.145,.955],[22.9,1.115,.92],[25.2,1.075,.86],[27.5,1.02,.77],[30,.93,.675],[32.3,.845,.565],[34.9,.74,.47],[37,.655,.4],[39.4,.58,.33],[41.9,.505,.26],[43.9,.42,.4]];
const gFesCharge = [[44.6,.79,.7],[46.7,1.01,.9],[49.4,1.157,1.04],[51.5,1.265,1.145],[53.6,1.375,1.24],[56.3,1.475,1.315],[58.4,1.55,1.39],[60.6,1.6,1.45],[62.9,1.63,1.475],[65.4,1.66,1.505],[67.8,1.685,1.55],[70.3,1.74,1.61],[72.6,1.82,1.69],[75,1.935,1.8],[77.2,2.12,1.965],[79.6,2.345,2.145],[81.8,2.685,2.4],[84.5,3.19,2.4]];
const gXTickLabels = ['0','50','100','150','200','250'];
const gYTickLabels = ['3','2','1','0'];

/* ---------- Panel h: [state position, resistance] ---------- */
const hHesDischarge = [[2,.407],[10,.508],[15.6,.557],[21,.678],[26.4,.668],[32,.664],[37.4,.53],[43,.464],[48.4,.56],[53.8,.546],[59.4,.555],[64.9,.48],[70.3,.494],[75.9,.574],[81.3,.685],[86.9,.743],[92.4,1.49]];
const hHesCharge = [[111.5,1.287],[116.9,.741],[122.2,.478],[127.6,.53],[133.2,.48],[138.4,.522],[144,.417],[149.3,.551],[154.5,.633],[160.1,.654],[165.5,.499],[170.9,.572],[176.4,.543],[181.6,.697],[187,.612],[192.4,.741],[197.9,.612]];
const hFesDischarge = [[2,.174],[7.9,.217],[10,.259],[12,.282],[14,.252],[16,.22],[18,.296],[19.9,.296],[21.8,.311],[24,.238],[26,.343],[28,.273],[29.9,.343],[32,.238],[34,.282],[36,.3],[38,.334],[40,.348],[41.9,.355],[43.8,.252],[46,.203],[47.9,.311],[49.9,.264],[51.9,.238],[53.9,.264],[56,.207],[58,.264],[59.9,.264],[61.9,.217],[64,.264],[66,.247],[68,.23],[70,.268],[71.9,.325],[73.9,.252],[75.9,.296],[77.8,.259],[80,.264],[81.9,.247],[83.9,.207],[85.9,.268],[87.8,.25],[89.8,.296],[92,.36],[94,.355],[95.9,.403],[97.9,.511]];
const hFesCharge = [[103,.656],[104.9,.551],[106.7,.416],[108.5,.369],[110.5,.346],[112.5,.355],[114.3,.355],[116.3,.334],[118.3,.33],[120,.325],[121.8,.22],[123.8,.329],[125.6,.203],[127.4,.177],[129.4,.212],[131.4,.247],[133.3,.217],[135.3,.247],[137.1,.376],[139,.22],[140.7,.285],[142.7,.2],[144.7,.247],[146.6,.203],[148.3,.22],[150.3,.22],[152.2,.113],[154.2,.085],[156.2,.264],[158,.19],[159.8,.285],[161.8,.242],[163.7,.348],[165.5,.261],[167.5,.242],[169.4,.369],[171.3,.22],[173,.264],[175,.29],[177,.376],[178.8,.329],[180.8,.242],[182.6,.391],[184.6,.285],[186.4,.325],[188.3,.242],[190.3,.329],[192.1,.334],[193.9,.325],[195.9,.2],[197.9,.264]];
const stateTickValues = [0,50,100,150,200];
const stateTickLabels = ['0','50','100','50','0'];
const hYTickLabels = ['2.0','1.6','1.2','0.8','0.4','0.0'];

/* ---------- Panel i: [state position, log D] ---------- */
const iHesDischarge = [[2,-9.72],[4,-9.65],[6,-9.71],[8,-9.65],[10,-9.7],[12,-9.71],[14,-9.71],[16,-9.65],[18,-9.56],[20,-9.5],[22,-9.56],[24,-9.69],[26,-9.74],[28,-9.83],[30,-9.97],[32,-10.14],[34,-10.35],[35.8,-10.61],[38,-10.47],[40,-10.55],[42,-10.64],[44,-10.49],[46,-10.64],[48,-10.58],[50,-10.56],[52,-10.42],[54,-10.25],[56,-10.18],[58,-10.18],[60,-10.04],[62,-10.11],[64,-10.13],[66,-10.23],[68,-10.27],[70,-10.05],[72,-10.08],[74,-9.98],[76,-9.92],[78,-9.81],[80,-9.68],[82,-9.66],[84,-9.58],[86,-9.5],[88,-9.4],[90,-9.31],[92,-9.23],[94,-9.14],[96,-9.05],[98,-8.94],[98.7,-8.84]];
const iHesCharge = [[101.2,-8.98],[102,-9.13],[104,-9.22],[106,-9.29],[108,-9.35],[110,-9.38],[112,-9.45],[114,-9.43],[116,-9.43],[118,-9.41],[120,-9.41],[122,-9.45],[124,-9.5],[126,-9.59],[128,-9.68],[130,-9.83],[132,-10.09],[134,-10.35],[136,-10.51],[138,-10.68],[140,-10.4],[142,-10.34],[144,-10.13],[146,-9.98],[148,-9.88],[150,-9.82],[152,-9.78],[154,-9.8],[156,-9.82],[158,-9.77],[160,-9.84],[162,-9.95],[164,-10.03],[166,-10.01],[168,-10.1],[170,-10.13],[172,-10.13],[174,-9.9],[176,-9.76],[178,-9.69],[180,-9.68],[182,-9.74],[184,-9.83],[186,-9.83],[188,-9.83],[190,-9.71],[192,-9.65],[194,-9.59],[196,-9.51],[198,-9.84]];
const iFesDischarge = [[2,-9.87],[6,-10.01],[12,-10.08],[17.6,-10.25],[23.4,-10.48],[29,-10.5],[35,-10.62],[40.8,-10.91],[46.4,-11.02],[52.1,-10.87],[57.9,-10.62],[63.7,-10.38],[69.6,-10.29],[75.3,-10.1],[81.1,-10.12],[87,-10.18],[92.8,-10.29],[98.5,-10.58]];
const iFesCharge = [[102,-9.86],[105.9,-9.99],[111.8,-10.04],[117.8,-10.04],[123.8,-10.16],[129.8,-10.37],[135.9,-10.71],[141.8,-10.93],[147.9,-10.71],[153.8,-10.52],[159.7,-10.43],[165.6,-10.42],[171.5,-10.42],[177.6,-10.5],[183.7,-10.57],[189.8,-10.52],[197.7,-10.32]];
const iYTickLabels = ['−8','−9','−10','−11','−12'];

/* ---------- helpers ---------- */
const NS = 'http://www.w3.org/2000/svg';
const root = document.getElementById('marks');
const TICK_SIZE = 58;

function mk(tag, attrs, parent) {
  const el = document.createElementNS(NS, tag);
  for (const k in attrs) el.setAttribute(k, attrs[k]);
  parent.appendChild(el);
  return el;
}
const linear = (d0, d1, r0, r1) => v => r0 + (v - d0) * (r1 - r0) / (d1 - d0);
const num = s => parseFloat(String(s).replace('−', '-'));

function panelGroup(name) {
  const g = mk('g', {}, root);
  
  
  return g;
}

function linePath(pts, p) {
  return pts.map((q, i) => (i ? 'L' : 'M') + p.x(q[0]).toFixed(1) + ' ' + p.y(q[1]).toFixed(1)).join('');
}

function smoothPath(pts, p) {
  const xy = pts.map(q => [p.x(q[0]), p.y(q[1])]);
  let d = 'M' + xy[0][0].toFixed(1) + ' ' + xy[0][1].toFixed(1);
  for (let i = 0; i < xy.length - 1; i++) {
    const a = xy[Math.max(i - 1, 0)], b = xy[i], c = xy[i + 1], e = xy[Math.min(i + 2, xy.length - 1)];
    d += 'C' + (b[0] + (c[0] - a[0]) / 7).toFixed(1) + ' ' + (b[1] + (c[1] - a[1]) / 7).toFixed(1) + ' ' +
         (c[0] - (e[0] - b[0]) / 7).toFixed(1) + ' ' + (c[1] - (e[1] - b[1]) / 7).toFixed(1) + ' ' +
         c[0].toFixed(1) + ' ' + c[1].toFixed(1);
  }
  return d;
}

function addTickLabel(g, x, y, str, anchor, name) {
  const t = mk('text', {x: x, y: y, 'text-anchor': anchor, 'font-size': TICK_SIZE}, g);
  t.textContent = str;
  
  
}

function addTick(g, x1, y1, x2, y2, width, name) {
  const l = mk('line', {x1: x1, y1: y1, x2: x2, y2: y2, stroke: '#000', 'stroke-width': width}, g);
  
  
}

function minorRange(lo, hi, step) {
  const out = [];
  const n = Math.round((hi - lo) / step);
  for (let i = 0; i <= n; i++) out.push(lo + i * step);
  return out;
}

function drawAxes(g, p, key) {
  const frame = mk('rect', {x: p.l, y: p.t, width: p.r - p.l, height: p.b - p.t, fill: 'none', stroke: '#000', 'stroke-width': 5}, g);
  
  
  if (p.xMinor) p.xMinor.forEach(v => addTick(g, p.x(v), p.b, p.x(v), p.b + 9, 3.5, key + '-x-minor-tick'));
  if (p.yMinor) p.yMinor.forEach(v => addTick(g, p.l, p.y(v), p.l - 9, p.y(v), 3.5, key + '-y-minor-tick'));
  p.xTickValues.forEach((v, i) => {
    addTick(g, p.x(v), p.b, p.x(v), p.b + 16, 4, key + '-x-major-tick');
    const nudge = p.xNudge ? p.xNudge(i, p.xTickLabels[i]) : 0;
    addTickLabel(g, p.x(v) + nudge, p.xBase, p.xTickLabels[i], 'middle', key + '-x-tick-label');
  });
  p.yTickLabels.forEach(s => {
    const v = num(s);
    addTick(g, p.l, p.y(v), p.l - 16, p.y(v), 4, key + '-y-major-tick');
    addTickLabel(g, p.yRight, p.y(v) + 20, s, 'end', key + '-y-tick-label');
  });
}

function drawCv(g, p, loops, width, key) {
  loops.forEach((loop, i) => {
    const path = mk('path', {d: smoothPath(loop, p), fill: 'none', stroke: cvColors[i], 'stroke-width': width, 'stroke-linejoin': 'round'}, g);
    
    
  });
}

function drawFit(g, p, xs, values, yKey, color, fill, key) {
  const fit = mk('path', {d: linePath(bFitX.map((x, i) => [x, yKey[i]]), p), fill: 'none', stroke: color, 'stroke-width': 5}, g);
  
  
  values.forEach((v, i) => {
    const c = mk('circle', {cx: p.x(xs[i]), cy: p.y(v), r: 9.5, fill: fill}, g);
    
    
  });
}

function drawBars(g, p, values, capFill, difFill, key, offset) {
  values.forEach((v, i) => {
    const cx = p.x(i), w = 122;
    const dif = mk('rect', {x: cx - w / 2, y: p.y(100), width: w, height: p.y(v) - p.y(100), fill: difFill, stroke: '#5f6b78', 'stroke-width': 2}, g);
    
    
    const cap = mk('rect', {x: cx - w / 2, y: p.y(v), width: w, height: p.y(0) - p.y(v), fill: capFill, stroke: '#5a4a50', 'stroke-width': 2}, g);
    
    
    const t = mk('text', {x: cx, y: p.y(v) + offset, 'text-anchor': 'middle', 'font-size': 51, textLength: 108, lengthAdjust: 'spacingAndGlyphs'}, g);
    t.textContent = v.toFixed(2);
    
    
  });
}

function toothPoints(teeth) {
  const pts = [];
  teeth.forEach((t, i) => {
    const next = teeth[i + 1];
    const dt = next ? Math.min(1.3, (next[0] - t[0]) / 2) : 0.2;
    pts.push([t[0], t[1]]);
    pts.push([t[0] + dt, t[2]]);
  });
  return pts;
}

function drawLineMarkers(g, p, pts, color, fill, r, key) {
  const line = mk('path', {d: linePath(pts, p), fill: 'none', stroke: color, 'stroke-width': 5, 'stroke-linejoin': 'round'}, g);
  
  
  pts.forEach(q => {
    const c = mk('circle', {cx: p.x(q[0]), cy: p.y(q[1]), r: r, fill: fill}, g);
    
    
  });
}

/* ---------- panel configuration ---------- */
const logNudge = (i, s) => s.startsWith('−') ? -12 : -3;
const panelA = {l: 220, r: 1142, t: 56, b: 738, x: linear(0, 3, 287, 1075), y: linear(0, 8, 465, 101),
  xTickValues: aXTickLabels.map(num), xTickLabels: aXTickLabels, yTickLabels: aYTickLabels, xBase: 800, yRight: 203,
  xMinor: minorRange(-0.25, 3.25, 0.25), yMinor: minorRange(-6, 9, 1)};
const panelB = {l: 1371.5, r: 2283, t: 69, b: 759, x: linear(-1, 0, 1447.6, 2206.6), y: linear(-0.4, -1.6, 122, 759),
  xTickValues: logXTickLabels.map(num), xTickLabels: logXTickLabels, yTickLabels: bYTickLabels, xBase: 831, yRight: 1355,
  xMinor: minorRange(-1.1, 0.1, 0.1), yMinor: minorRange(-1.6, -0.3, 0.1), xNudge: logNudge};
const panelC = {l: 2526, r: 3448, t: 65, b: 752, x: linear(0, 5, 2605.7, 3369.7), y: linear(0, 100, 752, 128),
  xTickValues: [0, 1, 2, 3, 4, 5], xTickLabels: scanRates, yTickLabels: barYTickLabels, xBase: 822, yRight: 2506,
  xMinor: minorRange(-0.5, 5.5, 1), yMinor: minorRange(0, 110, 10)};
const panelD = {l: 228, r: 1149, t: 904, b: 1594, x: linear(0, 3, 294, 1083.6), y: linear(0, 0.4, 1206, 1034),
  xTickValues: aXTickLabels.map(num), xTickLabels: aXTickLabels, yTickLabels: dYTickLabels, xBase: 1660, yRight: 203,
  xMinor: minorRange(-0.25, 3.25, 0.25), yMinor: minorRange(-0.8, 0.6, 0.2)};
const panelE = {l: 1373, r: 2287, t: 910.5, b: 1594, x: linear(-1, 0, 1450, 2210), y: linear(-0.2, 1, 1594, 910.5),
  xTickValues: logXTickLabels.map(num), xTickLabels: logXTickLabels, yTickLabels: eYTickLabels, xBase: 1660, yRight: 1355,
  xMinor: minorRange(-1.1, 0.1, 0.1), yMinor: minorRange(-0.2, 1, 0.1), xNudge: logNudge};
const panelF = {l: 2526, r: 3448, t: 904, b: 1590, x: linear(0, 5, 2603.8, 3371), y: linear(0, 100, 1590, 967),
  xTickValues: [0, 1, 2, 3, 4, 5], xTickLabels: scanRates, yTickLabels: barYTickLabels, xBase: 1657, yRight: 2506,
  xMinor: minorRange(-0.5, 5.5, 1), yMinor: minorRange(0, 110, 10)};
const panelG = {l: 224, r: 1158, t: 1784, b: 2461, x: linear(0, 50, 301.5, 457), y: linear(0, 3, 2375.5, 1868),
  xTickValues: gXTickLabels.map(num), xTickLabels: gXTickLabels, yTickLabels: gYTickLabels, xBase: 2539, yRight: 194,
  xMinor: minorRange(-25, 275, 25), yMinor: minorRange(-0.5, 3.5, 0.5), xNudge: () => 3};
const panelH = {l: 1376.7, r: 2285, t: 1782.5, b: 2461, x: linear(0, 100, 1376.7, 1831), y: linear(0, 2, 2445, 1782.5),
  xTickValues: stateTickValues, xTickLabels: stateTickLabels, yTickLabels: hYTickLabels, xBase: 2528, yRight: 1357,
  xMinor: minorRange(0, 200, 25), yMinor: minorRange(0, 2, 0.2), xNudge: i => 4 + 4 * i};
const panelI = {l: 2529.5, r: 3450, t: 1793.5, b: 2463.4, x: linear(0, 100, 2529.5, 2990), y: linear(-8, -12, 1793.5, 2463.4),
  xTickValues: stateTickValues, xTickLabels: stateTickLabels, yTickLabels: iYTickLabels, xBase: 2530, yRight: 2514,
  xMinor: minorRange(0, 200, 25), xNudge: i => 4 + 2 * i};

/* ---------- draw ---------- */
const gA = panelGroup('panel-a-cv-chart');
drawCv(gA, panelA, [aCv01, aCv02, aCv04, aCv06, aCv08, aCv10], 5.5, 'panel-a');
drawAxes(gA, panelA, 'panel-a');

const gB = panelGroup('panel-b-log-fit-chart');
drawFit(gB, panelB, logScanRate, bPeak1, bFit1, '#6fa8d8', 'url(#dotBlue)', 'panel-b-peak-1');
drawFit(gB, panelB, logScanRate, bPeak2, bFit2, '#ee6666', 'url(#dotRed)', 'panel-b-peak-2');
drawAxes(gB, panelB, 'panel-b');

const gC = panelGroup('panel-c-bar-chart');
drawBars(gC, panelC, cCapacitive, 'url(#cCap)', 'url(#cDif)', 'panel-c', 47);
drawAxes(gC, panelC, 'panel-c');

const gD = panelGroup('panel-d-cv-chart');
drawCv(gD, panelD, [dCv01, dCv02, dCv04, dCv06, dCv08, dCv10], 5, 'panel-d');
drawAxes(gD, panelD, 'panel-d');

const gE = panelGroup('panel-e-log-fit-chart');
drawFit(gE, panelE, logScanRate, ePeak1, eFit1, '#6fa8d8', 'url(#dotBlue)', 'panel-e-peak-1');
drawFit(gE, panelE, logScanRate, ePeak2, eFit2, '#ee6666', 'url(#dotRed)', 'panel-e-peak-2');
drawAxes(gE, panelE, 'panel-e');

const gF = panelGroup('panel-f-bar-chart');
drawBars(gF, panelF, fCapacitive, 'url(#fCap)', 'url(#fDif)', 'panel-f', 56);
drawAxes(gF, panelF, 'panel-f');

const gG = panelGroup('panel-g-gitt-chart');
const gHesPts = toothPoints(gHesDischarge).concat(toothPoints(gHesCharge));
const gFesPts = toothPoints(gFesDischarge).concat(toothPoints(gFesCharge));
const gHesLine = mk('path', {d: linePath(gHesPts, panelG), fill: 'none', stroke: '#ee6060', 'stroke-width': 6, 'stroke-linejoin': 'round'}, gG);


const gFesLine = mk('path', {d: linePath(gFesPts, panelG), fill: 'none', stroke: '#6fa8d8', 'stroke-width': 5.5, 'stroke-linejoin': 'round'}, gG);


drawAxes(gG, panelG, 'panel-g');

const gH = panelGroup('panel-h-resistance-chart');
drawLineMarkers(gH, panelH, hFesDischarge, '#6fa8d8', 'url(#dotBlue)', 8.5, 'panel-h-fes2-discharge');
drawLineMarkers(gH, panelH, hFesCharge, '#6fa8d8', 'url(#dotBlue)', 8.5, 'panel-h-fes2-charge');
drawLineMarkers(gH, panelH, hHesDischarge, '#f50000', 'url(#dotVivid)', 8.5, 'panel-h-hes-discharge');
drawLineMarkers(gH, panelH, hHesCharge, '#f50000', 'url(#dotVivid)', 8.5, 'panel-h-hes-charge');
drawAxes(gH, panelH, 'panel-h');

const gI = panelGroup('panel-i-diffusion-chart');
drawLineMarkers(gI, panelI, iFesDischarge, '#6fa8d8', 'url(#dotBlue)', 8.5, 'panel-i-fes2-discharge');
drawLineMarkers(gI, panelI, iFesCharge, '#6fa8d8', 'url(#dotBlue)', 8.5, 'panel-i-fes2-charge');
drawLineMarkers(gI, panelI, iHesDischarge, '#ee6666', 'url(#dotRed)', 8.5, 'panel-i-hes-discharge');
drawLineMarkers(gI, panelI, iHesCharge, '#ee6666', 'url(#dotRed)', 8.5, 'panel-i-hes-charge');
drawAxes(gI, panelI, 'panel-i');
</script>
</body>
</html>
